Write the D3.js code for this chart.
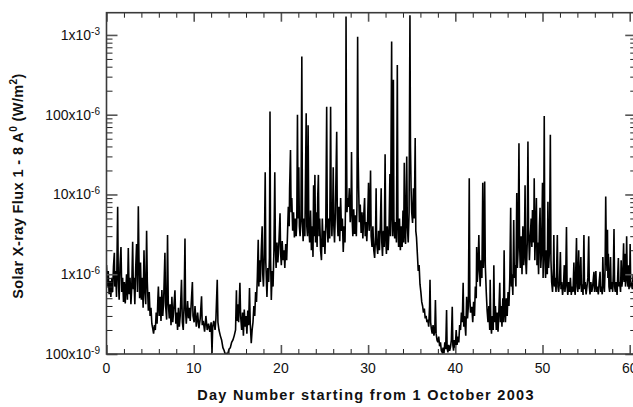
<!DOCTYPE html>
<html><head><meta charset="utf-8">
<script src="https://cdn.jsdelivr.net/npm/d3@7"></script>
<style>
body{margin:0;background:#fff;}
svg{display:block;font-family:"Liberation Sans",Arial,sans-serif;}
</style>
</head><body>
<svg id="chart" width="633" height="407"></svg>
<script>
// ---------- data ----------
const xTickDays = [0, 10, 20, 30, 40, 50, 60];
const yTickValues = [1e-7, 1e-6, 1e-5, 1e-4, 1e-3];
const yTickMantissas = ["100", "1", "10", "100", "1"];
const yTickExponents = ["-9", "-6", "-6", "-6", "-3"];
const xTitle = "Day Number starting from 1 October 2003";
const fluxUnit = 1e-9; // values below are in units of 1e-9 W/m^2

// [day, flux (x1e-9 W/m^2)]
const fluxDays00to12 = [[0,1300],[0.1,700],[0.2,1100],[0.3,560],[0.4,820],[0.5,520],[0.6,900],[0.7,600],[0.8,1250],[0.9,1860],[0.95,700],
[1.05,1100],[1.15,520],[1.28,7000],[1.35,900],[1.45,480],[1.55,1300],[1.66,2200],[1.75,600],[1.85,900],[1.95,450],
[2.05,800],[2.15,430],[2.3,1000],[2.4,480],[2.5,2130],[2.6,560],[2.7,900],[2.8,420],[2.9,700],[3.0,2550],[3.08,650],
[3.15,900],[3.25,420],[3.35,1200],[3.45,2400],[3.55,600],[3.65,7100],[3.72,1650],[3.8,500],[3.9,1400],[4.0,480],
[4.1,900],[4.2,380],[4.3,2000],[4.4,600],[4.5,420],[4.6,3500],[4.68,800],[4.8,350],[4.9,600],[5.0,300],
[5.1,380],[5.2,240],[5.3,210],[5.4,180],[5.5,230],[5.6,200],[5.7,330],[5.8,240],[5.9,520],[5.95,700],
[6.05,300],[6.15,520],[6.25,260],[6.35,635],[6.45,300],[6.55,450],[6.7,1860],[6.78,400],[6.9,270],[7.0,3100],[7.08,450],
[7.2,280],[7.3,420],[7.4,230],[7.5,520],[7.6,250],[7.7,350],[7.85,630],[7.95,240],
[8.05,330],[8.15,200],[8.25,380],[8.35,220],[8.45,300],[8.6,850],[8.7,250],[8.8,200],[8.9,420],[9.0,2800],[9.07,350],
[9.15,240],[9.3,460],[9.4,280],[9.5,380],[9.6,260],[9.7,400],[9.85,800],[9.92,300],
[10.05,250],[10.15,400],[10.3,220],[10.45,330],[10.6,210],[10.75,280],[10.9,530],[10.98,230],
[11.1,260],[11.25,190],[11.4,300],[11.55,200],[11.7,240],[11.85,190],[12.0,250],[12.1,103],[12.18,220]];

const fluxDays12to21 = [[12.3,260],[12.45,200],[12.55,280],[12.7,850],[12.78,250],[12.9,200],[13.05,170],[13.2,150],
[13.35,120],[13.5,110],[13.6,100],[13.75,102],[13.9,100],[14.05,115],[14.2,120],[14.35,140],[14.5,150],
[14.65,170],[14.8,200],[14.9,630],[14.95,260],[15.05,420],[15.15,250],[15.3,780],[15.38,300],
[15.5,200],[15.6,330],[15.7,170],[15.8,360],[15.9,220],[16.0,300],[16.1,180],[16.2,350],[16.3,230],[16.4,670],[16.48,250],[16.6,137],[16.7,200],
[16.8,250],[16.9,400],[17.0,300],[17.1,600],[17.2,450],[17.3,930],[17.4,2700],[17.47,700],
[17.55,1500],[17.65,800],[17.75,2000],[17.85,4000],[17.92,1000],[18.0,700],[18.1,1800],
[18.2,19000],[18.27,1400],[18.4,520],[18.5,1200],[18.6,800],[18.68,1600],[18.75,110000],[18.82,1500],[18.9,475],[19.0,1100],[19.1,700],[19.2,2000],[19.3,19000],[19.37,2200],
[19.45,1200],[19.55,2500],[19.65,1400],[19.75,2200],[19.9,5800],[19.97,1800],[20.05,1300],[20.15,2600],[20.25,1500],[20.35,2000],[20.45,1200],[20.55,2400],[20.66,1500],
[20.75,3000],[20.85,7000],[20.95,4000],[21.0,12000],[21.1,36000],[21.17,6000],[21.25,9000]];

const fluxDays21to37 = [[21.35,3500],[21.45,6000],[21.55,2900],[21.65,5000],[21.75,3000],[21.82,4500],[21.9,100000],[21.97,5000],[22.05,22000],[22.12,4000],[22.2,3000],
[22.3,5000],[22.4,536000],[22.47,4400],[22.55,2600],[22.65,5000],[22.75,3000],[22.9,104000],[22.97,4000],[23.05,3000],[23.12,74000],[23.2,4000],
[23.3,2500],[23.4,6300],[23.5,2000],[23.6,4000],[23.68,1650],[23.75,13000],[23.82,3000],[23.9,17600],[23.97,2500],[24.05,6000],[24.15,2200],[24.22,9000],[24.3,17600],[24.37,3000],[24.45,5000],[24.55,2000],[24.65,1500],[24.75,5000],[24.85,2200],[24.95,3500],[25.05,1800],[25.15,4500],
[25.25,126000],[25.32,3900],[25.4,2500],[25.5,5000],[25.6,2800],[25.7,126000],[25.77,6000],[25.85,3000],[25.95,8000],[26.0,22000],[26.07,4000],[26.15,2500],[26.25,6000],[26.4,61000],[26.47,5000],
[26.55,3000],[26.65,7000],[26.75,2600],[26.85,9000],[26.95,3500],[27.05,5000],[27.15,1900],[27.25,4000],[27.35,2500],[27.42,9000],[27.47,1700000],[27.52,60000],[27.58,6000],
[27.65,9000],[27.75,7000],[27.85,12000],[27.95,4500],[28.05,8000],[28.1,34000],[28.17,5000],[28.25,3000],[28.35,6500],[28.45,3200],[28.55,5500],[28.65,3000],[28.72,7000],[28.8,950000],[28.86,30000],[28.92,11300],
[29.0,4500],[29.1,7500],[29.2,3300],[29.3,6000],[29.4,2800],[29.5,5500],[29.6,9000],[29.67,3000],[29.75,4500],[29.85,2600],[29.95,5000],[30.05,14000],[30.12,3500],[30.2,5000],[30.28,20000],[30.35,3000],
[30.45,2200],[30.55,4000],[30.65,2000],[30.75,1600],[30.85,3000],[30.92,12000],[30.98,2500],[31.1,1800],[31.2,3500],[31.3,2000],[31.4,4000],[31.5,12000],[31.57,2500],
[31.65,1700],[31.75,3500],[31.85,2200],[31.95,32000],[32.02,3000],[32.1,1800],[32.2,4000],[32.3,2000],[32.4,3500],[32.5,18000],[32.57,3000],
[32.7,830000],[32.76,5000],[32.83,3000],[32.9,274000],[32.96,5000],[33.05,2800],[33.15,4500],[33.25,2500],[33.35,420000],[33.42,4400],[33.5,2200],
[33.6,5000],[33.7,2000],[33.8,4000],[33.9,2200],[34.0,6300],[34.08,2500],[34.15,25000],[34.22,4000],[34.3,2400],[34.43,30000],[34.5,4000],[34.6,2500],[34.7,6000],
[34.8,1760000],[34.86,40000],[34.93,12000],[35.0,6000],[35.1,4400],[35.2,12000],[35.3,5000],[35.4,51000],[35.47,3500],[35.55,2900],
[35.65,1800],[35.75,1100],[35.85,1300],[35.95,750],[36.05,600],[36.15,450],[36.25,400],[36.35,330],[36.45,370],[36.55,280],[36.65,300],[36.75,250]];

const fluxDays37to48 = [[36.85,270],[36.95,220],[37.05,400],[37.1,850],[37.17,250],[37.25,210],[37.35,180],[37.45,230],[37.55,170],[37.65,200],[37.72,475],[37.8,180],[37.9,150],[38.0,140],[38.1,165],[38.2,125],[38.3,140],[38.4,110],[38.5,105],[38.6,120],[38.7,102],[38.8,140],[38.9,115],[39.0,355],[39.06,120],[39.15,105],[39.25,130],[39.35,110],[39.45,122],[39.55,150],[39.65,390],[39.72,130],[39.8,110],[39.9,150],[40.0,120],[40.1,200],[40.2,130],[40.3,165],[40.4,140],[40.5,230],
[40.6,200],[40.7,330],[40.8,250],[40.9,780],[40.97,220],[41.05,300],[41.12,230],[41.2,170],[41.3,520],[41.4,280],[41.5,400],[41.6,16000],[41.67,500],[41.75,330],[41.9,390],
[42.0,250],[42.1,450],[42.2,300],[42.3,700],[42.4,500],[42.45,2200],[42.52,800],[42.6,1100],[42.7,3100],[42.77,1300],[42.85,700],[42.95,1500],[43.05,900],[43.15,14000],[43.22,1200],[43.3,2000],[43.37,14500],[43.44,1300],[43.55,600],
[43.65,350],[43.75,250],[43.85,400],[43.95,200],[44.0,850],[44.07,250],[44.15,180],[44.25,300],[44.35,200],[44.42,1300],[44.5,250],[44.6,400],[44.7,200],[44.8,330],[44.9,190],[45.0,350],[45.1,780],[45.17,250],[45.25,400],[45.35,220],[45.45,500],[45.52,250],[45.6,2000],[45.67,350],[45.75,250],[45.85,500],[45.95,300],
[46.05,600],[46.15,400],[46.25,900],[46.35,6800],[46.42,700],[46.5,1000],[46.6,550],[46.7,4800],[46.77,900],[46.85,1300],[46.95,700],[47.05,10400],[47.12,1200],[47.2,2000],[47.3,44000],[47.37,2500],[47.45,1200],[47.55,3000],[47.65,1000],[47.75,4000],[47.85,1300],[47.92,2000],[48.0,13000],[48.07,1500],[48.15,1000],[48.25,2500],[48.33,46000],[48.4,3600]];

const fluxDays48to61 = [[48.5,1500],[48.6,3000],[48.7,5000],[48.78,2200],[48.85,6400],[48.92,2500],[49.0,3500],[49.05,16000],[49.12,1500],[49.2,3000],[49.3,9000],[49.37,1300],[49.45,2500],[49.55,1000],[49.65,4000],[49.72,6800],[49.8,1200],[49.9,2000],[50.0,14000],[50.07,900],[50.13,2500],[50.2,96000],[50.27,1700],[50.35,900],[50.45,2000],[50.55,1000],[50.62,8100],[50.7,1200],[50.8,2000],[50.9,56000],[50.97,1500],
[51.05,800],[51.15,600],[51.25,1200],[51.3,3100],[51.37,700],[51.45,900],[51.55,600],[51.62,1100],[51.7,3100],[51.77,700],[51.85,600],[51.95,800],[52.05,1900],[52.12,650],[52.2,800],[52.3,550],[52.4,700],[52.5,1300],[52.57,600],[52.65,750],[52.75,3900],[52.82,700],[52.9,550],[53.0,800],[53.1,600],[53.2,900],[53.3,550],[53.4,700],[53.5,600],[53.6,1400],[53.67,650],[53.75,550],[53.9,2850],[53.97,700],[54.05,600],[54.15,2000],[54.22,650],[54.3,800],[54.4,1640],[54.47,600],[54.55,750],[54.65,550],[54.75,3100],[54.82,650],[54.9,800],
[55.0,560],[55.1,700],[55.2,900],[55.3,3000],[55.37,700],[55.45,560],[55.55,800],[55.65,600],[55.75,700],[55.9,1070],[55.97,600],[56.05,750],[56.12,1100],[56.2,600],[56.3,700],[56.4,560],[56.5,800],[56.6,1070],[56.67,600],[56.75,700],[56.85,560],[56.92,1640],[57.0,750],[57.1,600],[57.18,1200],[57.25,9400],[57.32,1800],[57.4,1100],[57.45,3600],[57.5,900],[57.55,1800],[57.62,700],[57.7,600],[57.8,1640],[57.87,650],[57.95,800],
[58.05,600],[58.12,1000],[58.2,3700],[58.27,700],[58.35,600],[58.45,800],[58.55,550],[58.62,900],[58.7,1600],[58.77,700],[58.85,800],[58.95,600],[59.02,1500],[59.1,700],[59.2,900],[59.3,2450],[59.37,800],[59.45,1800],[59.52,700],[59.58,900],[59.65,3000],[59.72,900],[59.8,700],[59.85,1300],[59.92,650],[60.0,900],[60.05,2400],[60.12,700],[60.2,800],[60.3,650],[60.4,1000],[60.5,700],[60.6,850],[60.75,700]];

const fluxSeries = [].concat(fluxDays00to12, fluxDays12to21, fluxDays21to37, fluxDays37to48, fluxDays48to61);

// ---------- layout ----------
const svg = d3.select("#chart");
const x = d3.scaleLinear().domain([0, 60]).range([106.5, 629.7]);
const y = d3.scaleLog().domain([1e-7, 1.9e-3]).range([354, 12.7]);
const pL = x(0), pR = x(60.75), pT = y(1.9e-3), pB = y(1e-7);

const yMinor = [];
for (let e = -7; e <= -3; e++) for (let m = 2; m <= 9; m++) { const v = m * Math.pow(10, e); if (v <= y.domain()[1]) yMinor.push(v); }
const xMinor = d3.range(0, 61, 2).filter(d => d % 10 !== 0);

svg.append("defs").append("clipPath").attr("id", "plotclip")
  .append("rect").attr("x", pL).attr("y", pT).attr("width", pR - pL).attr("height", pB - pT);

// data line
const line = d3.line().x(d => x(d[0])).y(d => y(d[1] * fluxUnit));
svg.append("path").datum(fluxSeries)
  .attr("clip-path", "url(#plotclip)")
  .attr("fill", "none").attr("stroke", "#000").attr("stroke-width", 1.6)
  .attr("stroke-linejoin", "miter").attr("d", line);

// axes ticks
function styleAxis(g, color, w) {
  g.select(".domain").remove();
  g.selectAll(".tick line").attr("stroke", color).attr("stroke-width", w);
  g.selectAll(".tick text").remove();
}
svg.append("g").attr("transform", `translate(${pL},0)`)
  .call(d3.axisRight(y).tickValues(yTickValues).tickSize(11).tickSizeOuter(0)).call(g => styleAxis(g, "#555", 1.6));
svg.append("g").attr("transform", `translate(${pL},0)`)
  .call(d3.axisRight(y).tickValues(yMinor).tickSize(6).tickSizeOuter(0)).call(g => styleAxis(g, "#222", 1));
svg.append("g").attr("transform", `translate(${pR},0)`)
  .call(d3.axisLeft(y).tickValues(yTickValues).tickSize(11).tickSizeOuter(0)).call(g => styleAxis(g, "#555", 1.6));
svg.append("g").attr("transform", `translate(${pR},0)`)
  .call(d3.axisLeft(y).tickValues(yMinor).tickSize(6).tickSizeOuter(0)).call(g => styleAxis(g, "#222", 1));
svg.append("g").attr("transform", `translate(0,${pB})`)
  .call(d3.axisTop(x).tickValues(xTickDays).tickSize(9).tickSizeOuter(0)).call(g => styleAxis(g, "#555", 1.6));
svg.append("g").attr("transform", `translate(0,${pB})`)
  .call(d3.axisTop(x).tickValues(xMinor).tickSize(5).tickSizeOuter(0)).call(g => styleAxis(g, "#222", 1));
svg.append("g").attr("transform", `translate(0,${pT})`)
  .call(d3.axisBottom(x).tickValues(xTickDays).tickSize(9).tickSizeOuter(0)).call(g => styleAxis(g, "#555", 1.6));
svg.append("g").attr("transform", `translate(0,${pT})`)
  .call(d3.axisBottom(x).tickValues(xMinor).tickSize(5).tickSizeOuter(0)).call(g => styleAxis(g, "#222", 1));

// frame
svg.append("rect").attr("x", pL).attr("y", pT).attr("width", pR - pL).attr("height", pB - pT)
  .attr("fill", "none").attr("stroke", "#3a3a3a").attr("stroke-width", 1.6);

// x tick labels
svg.append("g").selectAll("text").data(xTickDays).join("text")
  .attr("x", d => x(d)).attr("y", pB + 19).attr("text-anchor", "middle")
  .attr("font-size", 14).attr("fill", "#111").text(d => d);

// y tick labels with superscript exponent
const yl = svg.append("g").selectAll("text").data(yTickValues).join("text")
  .attr("x", 100).attr("y", d => y(d) + 5).attr("text-anchor", "end")
  .attr("font-size", 14).attr("fill", "#111");
yl.append("tspan").text((d, i) => yTickMantissas[i] + "x10");
yl.append("tspan").attr("dy", -5).attr("font-size", 10).text((d, i) => yTickExponents[i]);

// x title
svg.append("text").attr("x", 366).attr("y", 400).attr("text-anchor", "middle")
  .attr("font-size", 14.5).attr("font-weight", "bold").attr("letter-spacing", 1.3)
  .attr("fill", "#111").text(xTitle);

// y title
const yt = svg.append("text").attr("transform", "translate(23,186) rotate(-90)")
  .attr("text-anchor", "middle").attr("font-size", 14.5).attr("font-weight", "bold")
  .attr("letter-spacing", 0.4).attr("fill", "#111");
yt.append("tspan").text("Solar X-ray Flux 1 - 8 A");
yt.append("tspan").attr("dy", -6).attr("font-size", 10).text("0");
yt.append("tspan").attr("dy", 6).text(" (W/m");
yt.append("tspan").attr("dy", -6).attr("font-size", 10).text("2");
yt.append("tspan").attr("dy", 6).text(")");
</script>
</body></html>
